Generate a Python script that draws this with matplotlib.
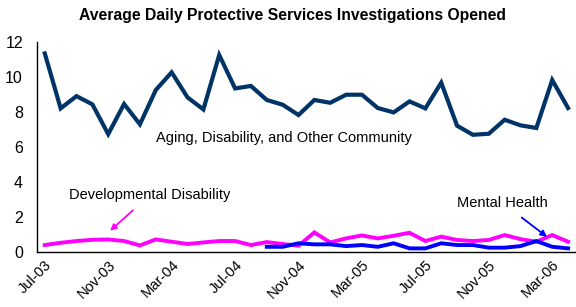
import matplotlib
matplotlib.use("Agg")
import matplotlib.pyplot as plt
import numpy as np

plt.rcParams["font.family"] = ["Liberation Sans", "DejaVu Sans"]

# monthly, Jul-03 .. Apr-06
months = ["Jul-03", "Aug-03", "Sep-03", "Oct-03", "Nov-03", "Dec-03",
          "Jan-04", "Feb-04", "Mar-04", "Apr-04", "May-04", "Jun-04",
          "Jul-04", "Aug-04", "Sep-04", "Oct-04", "Nov-04", "Dec-04",
          "Jan-05", "Feb-05", "Mar-05", "Apr-05", "May-05", "Jun-05",
          "Jul-05", "Aug-05", "Sep-05", "Oct-05", "Nov-05", "Dec-05",
          "Jan-06", "Feb-06", "Mar-06", "Apr-06"]

aging = [11.35, 8.21, 8.91, 8.44, 6.74, 8.46, 7.30, 9.26, 10.27, 8.84,
         8.15, 11.26, 9.35, 9.49, 8.69, 8.42, 7.83, 8.69, 8.53, 8.99,
         8.99, 8.23, 7.98, 8.61, 8.21, 9.68, 7.22, 6.70, 6.76, 7.56,
         7.24, 7.09, 9.83, 8.23]

developmental = [0.40, 0.53, 0.63, 0.70, 0.72, 0.63, 0.38, 0.72, 0.59, 0.46,
                 0.55, 0.63, 0.63, 0.40, 0.57, 0.46, 0.36, 1.12, 0.55, 0.78,
                 0.95, 0.78, 0.93, 1.10, 0.63, 0.88, 0.69, 0.63, 0.69, 0.97,
                 0.74, 0.59, 0.97, 0.59]

mental = [None] * 14 + [0.30, 0.30, 0.50, 0.44, 0.44, 0.34, 0.40, 0.30,
                        0.50, 0.21, 0.21, 0.50, 0.40, 0.40, 0.25, 0.25,
                        0.34, 0.63, 0.30, 0.21]

x = np.arange(len(months))
mh = np.array([np.nan if v is None else v for v in mental])

fig = plt.figure(figsize=(5.76, 3.07), dpi=100)
ax = fig.add_axes([0.064, 0.179, 0.936, 0.684])

ax.plot(x, developmental, color="#FF00FF", lw=2.8, solid_joinstyle="miter")
ax.plot(x, mh, color="#0000FF", lw=2.8, solid_joinstyle="miter")
ax.plot(x, aging, color="#003366", lw=3.0, solid_joinstyle="miter")

ax.set_xlim(-0.5, len(months) - 0.5)
ax.set_ylim(0, 12)
ax.set_yticks(range(0, 13, 2))
ax.set_xticks(x[::4])
ax.set_xticklabels(months[::4], rotation=45, ha="right",
                   rotation_mode="anchor", fontsize=10.5)
ax.tick_params(axis="y", labelsize=11.5, length=0, pad=10)
ax.tick_params(axis="x", length=0, pad=4)
for s in ("top", "right"):
    ax.spines[s].set_visible(False)
for s in ("left", "bottom"):
    ax.spines[s].set_linewidth(1.0)

fig.text(0.507, 0.948, "Average Daily Protective Services Investigations Opened",
         ha="center", va="center", fontsize=11.3, fontweight="bold")

ax.text(15.1, 6.5, "Aging, Disability, and Other Community",
        ha="center", va="center", fontsize=10.5)
ax.annotate("Developmental Disability", xy=(4.12, 1.22), xytext=(6.64, 3.26),
            ha="center", va="center", fontsize=10.5,
            arrowprops=dict(arrowstyle="-|>", color="#FF00FF", lw=1.3,
                            mutation_scale=9, shrinkA=6, shrinkB=0))
ax.annotate("Mental Health", xy=(31.67, 0.87), xytext=(28.85, 2.82),
            ha="center", va="center", fontsize=10.5,
            arrowprops=dict(arrowstyle="-|>", color="#0000FF", lw=1.3,
                            mutation_scale=9, shrinkA=6, shrinkB=0))

fig.savefig("out.png", dpi=100)
